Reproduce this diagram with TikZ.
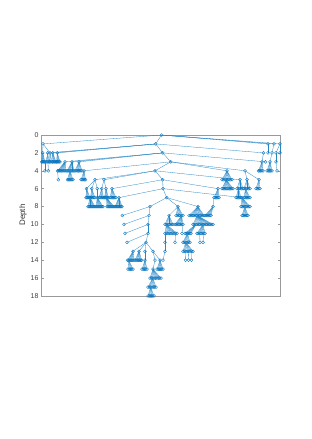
\documentclass[tikz,border=0pt]{standalone}
\usepackage{fontspec}
\setmainfont{Liberation Sans}
\definecolor{mblue}{RGB}{0,114,189}
\tikzset{
  edge/.style={draw=mblue!85,line width=0.3pt},
  mrk/.style={draw=mblue,line width=0.35pt,fill=none},
  axisline/.style={draw=black!40,line width=0.5pt},
  ticklab/.style={font=\fontsize{7}{8}\selectfont,text=black!75,anchor=east,inner sep=0pt},
}
\newcommand\Ypx[1]{135+8.944*(#1)}
\newcommand\mk[1]{\draw[mrk] (#1) circle[radius=1.5];}
\newcommand\rootnd[3]{\coordinate (#1) at (#2,{\Ypx{#3}});\mk{#1}}
\newcommand\nd[4]{\coordinate (#1) at (#2,{\Ypx{#3}});\draw[edge] (#4) -- (#1);\mk{#1}}
\newcommand\cmb[5]{\foreach \k in {1,...,#5}{\coordinate (#1-\k) at ({#2+(#3-#2)*(\k-1)/(#5-1)},{\Ypx{#4}});\draw[edge] (#1) -- (#1-\k);\draw[mrk] (#1-\k) circle[radius=1.5];}}
\begin{document}
\begin{tikzpicture}[x=1pt,y=-1pt]
\useasboundingbox[fill=white] (0,0) rectangle (312,439);
% axes
\coordinate (axTL) at (41.7,135);
\coordinate (axBR) at (280,296);
\draw[axisline] (axTL) rectangle (axBR);
\foreach \d in {0,2,...,18}{
  \coordinate (tl\d) at (41.7,{\Ypx{\d}});
  \coordinate (tr\d) at (280,{\Ypx{\d}});
  \draw[axisline] (tl\d) -- ++(2.4,0);
  \draw[axisline] (tr\d) -- ++(-2.4,0);
  \node[ticklab] (lab\d) at (38.6,{\Ypx{\d}}) {\d};
}
\node[rotate=90,font=\fontsize{8}{9}\selectfont,text=black!80] (ylab) at (23,215) {Depth};
% spine
\rootnd{S0}{161.5}{0}
\nd{S1}{155.7}{1}{S0}
\nd{S2}{162.7}{2}{S1}
\nd{S3}{170.7}{3}{S2}
\nd{S4}{155}{4}{S3}
\nd{S5}{162.7}{5}{S4}
\nd{S6}{163}{6}{S5}
\nd{S7}{166.7}{7}{S6}
% left cluster A
\nd{a}{43}{1}{S0}
\nd{a1}{42.7}{2}{a}
\nd{a3}{50}{2}{a}
\nd{b1}{47.7}{2}{S1}
\nd{b2}{52.7}{2}{S1}
\nd{b3}{57.3}{2}{S1}
\cmb{a1}{41.8}{45}{3}{5}
\cmb{b1}{46}{49}{3}{4}
\cmb{a3}{49.5}{52}{3}{3}
\cmb{b2}{52.5}{56}{3}{5}
\cmb{b3}{56.5}{60}{3}{5}
\nd{q1}{45}{4}{a1-5}
\nd{q2}{48.3}{4}{b1-3}
% left cluster B
\nd{c1}{65}{3}{S2}
\nd{c2}{72}{3}{S2}
\nd{c3}{79}{3}{S2}
\nd{c4}{84}{4}{S3}
\cmb{c1}{57.5}{66}{4}{9}
\cmb{c2}{67}{74}{4}{8}
\cmb{c3}{75}{82}{4}{7}
\nd{q3}{58.3}{5}{c1-1}
\cmb{c2-4}{67.5}{73}{5}{6}
\cmb{c4}{81}{85.5}{5}{5}
% left cluster C
\nd{e1}{95}{5}{S4}
\nd{e2}{104}{5}{S4}
\nd{e11}{86.5}{6}{e1}
\nd{e12}{91.7}{6}{e1}
\nd{e13}{97.3}{6}{e1}
\nd{e21}{101.7}{6}{e2}
\nd{e22}{106}{6}{e2}
\cmb{e11}{86}{90}{7}{5}
\cmb{e12}{90.5}{95}{7}{5}
\nd{e131}{97.3}{7}{e13}
\cmb{e21}{99}{103.5}{7}{5}
\cmb{e22}{104.5}{108.5}{7}{5}
\cmb{e11-5}{88}{95}{8}{8}
\cmb{e131}{96}{103}{8}{8}
\cmb{e22-3}{107}{114}{8}{8}
\nd{g1}{112}{6}{S5}
\cmb{g1}{110}{116}{7}{6}
\nd{g2}{119}{7}{S6}
\cmb{g2}{115}{122}{8}{8}
% lower-left sub-spine
\nd{T8}{150}{8}{S7}
\nd{T9}{149}{9}{T8}
\nd{T10}{148}{10}{T9}
\nd{T11}{148}{11}{T10}
\nd{T12}{146}{12}{T11}
\nd{l9}{122.3}{9}{T8}
\nd{l10}{124}{10}{T9}
\nd{l11}{125}{11}{T10}
\nd{l12}{127}{12}{T11}
% left cluster D
\nd{h1}{133}{13}{T12}
\nd{h2}{139}{13}{T12}
\nd{h3}{145}{13}{T12}
\nd{T13}{153}{13}{T12}
\cmb{h1}{127.7}{134}{14}{7}
\cmb{h2}{135}{141.7}{14}{7}
\nd{h31}{145}{14}{h3}
\cmb{h1-2}{128}{133}{15}{5}
\cmb{h31}{142}{147}{15}{5}
% bottom chain
\nd{T14}{155}{14}{T13}
\nd{k1}{160}{14}{T13}
\cmb{k1}{157}{163}{15}{6}
\nd{T15}{153}{15}{T14}
\cmb{T15}{150}{161}{16}{9}
\cmb{T15-3}{148}{156}{17}{7}
\cmb{T15-3-3}{148}{154}{18}{6}
% right lower subtree
\nd{U8}{178}{8}{S7}
\nd{V8}{198}{8}{S7}
\nd{u1}{169}{9}{U8}
\cmb{U8}{176}{183}{9}{6}
\cmb{u1}{165}{173}{10}{7}
\cmb{u1-2}{165}{177}{11}{9}
\nd{v12}{165}{12}{u1-2-1}
\nd{v13}{165}{13}{v12}
\nd{v14}{163}{14}{v13}
\nd{v12b}{175}{12}{u1-2-8}
\cmb{U8-5}{175}{183}{10}{7}
\nd{w11}{182}{11}{U8-5-7}
\cmb{V8}{189}{204}{9}{12}
\cmb{V8-7}{193}{213}{10}{15}
\cmb{V8-7-3}{185}{191}{11}{6}
\cmb{V8-7-8}{197}{205}{11}{7}
\cmb{V8-7-3-3}{183}{190}{12}{6}
\nd{x12a}{200}{12}{V8-7-8-3}
\nd{x12b}{203}{12}{V8-7-8-6}
\cmb{V8-7-3-3-3}{183}{193}{13}{8}
\nd{y14a}{185.5}{14}{V8-7-3-3-3-3}
\nd{y14b}{188.5}{14}{V8-7-3-3-3-5}
\nd{y14c}{191.5}{14}{V8-7-3-3-3-7}
% right cluster A
\nd{r1}{268}{1}{S0}
\nd{r2}{274}{1}{S0}
\nd{r3}{280}{1}{S0}
\nd{ra}{263.5}{2}{S1}
\nd{rb}{268}{2}{r1}
\nd{rc}{272}{2}{r2}
\nd{rd}{276}{2}{r3}
\nd{re}{280}{2}{r3}
\nd{s31}{262}{3}{ra}
\nd{s32}{265.5}{3}{S2}
\nd{s33}{270}{3}{rc}
\nd{s34}{276}{3}{rd}
\cmb{s31}{258.5}{263}{4}{5}
\cmb{s33}{267}{272}{4}{5}
\nd{s41}{277}{4}{s34}
% right cluster B
\nd{rb1}{227}{4}{S3}
\nd{rb2}{245}{4}{S3}
\cmb{rb1}{222}{232}{5}{8}
\nd{x2}{247}{5}{rb2}
\nd{x3}{259}{5}{rb2}
\nd{x1}{240}{5}{S4}
\cmb{rb1-4}{222}{233}{6}{10}
\cmb{x1}{237}{243}{6}{5}
\cmb{x2}{244}{250}{6}{5}
\cmb{x3}{256}{260}{6}{4}
\cmb{x1-2}{236}{241}{7}{5}
\cmb{x2-2}{244}{250}{7}{6}
\nd{z6}{218}{6}{S5}
\cmb{z6}{214}{219}{7}{5}
\nd{z8}{213}{8}{z6-1}
\cmb{z8}{205}{211}{9}{6}
\nd{r7}{242}{7}{S6}
\cmb{r7}{241}{250}{8}{8}
\cmb{r7-4}{242}{248}{9}{6}
\end{tikzpicture}
\end{document}
